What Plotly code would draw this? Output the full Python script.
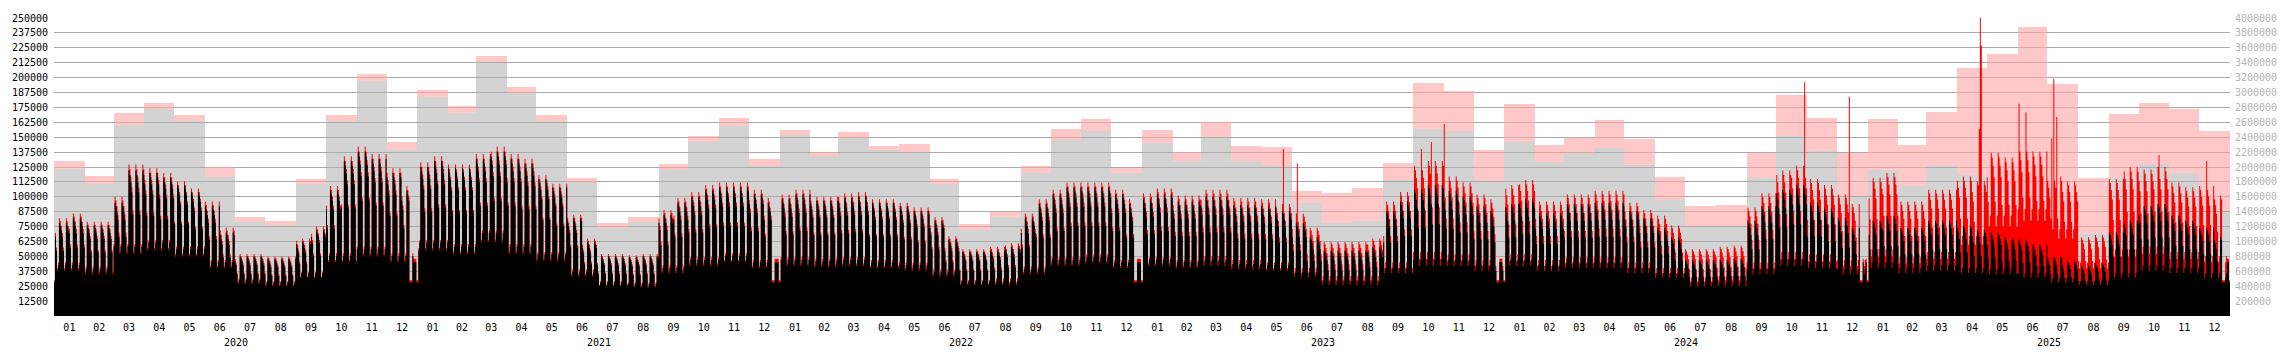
import pandas as pd
import plotly.graph_objects as go

# ---------------- data ----------------
MONTH_LABELS = ["01", "02", "03", "04", "05", "06", "07", "08", "09", "10", "11", "12"]
YEARS = [2020, 2021, 2022, 2023, 2024, 2025]

# monthly totals (right axis) - pink bars
MONTH_TOTAL = [
    2075000, 1875000, 2730000, 2862000, 2702000, 2000000, 1329000, 1275000, 1835000, 2702000, 3250000, 2330000,
    3035000, 2822000, 3490000, 3075000, 2702000, 1850000, 1253000, 1329000, 2035000, 2422000, 2656000, 2112000,
    2496000, 2208000, 2464000, 2288000, 2304000, 1840000, 1232000, 1392000, 2016000, 2512000, 2640000, 1984000,
    2496000, 2208000, 2608000, 2288000, 2272000, 1680000, 1648000, 1712000, 2050000, 3130000, 3022000, 2222000,
    2850000, 2302000, 2395000, 2635000, 2370000, 1862000, 1475000, 1490000, 2182000, 2970000, 2662000, 2182000,
    2650000, 2302000, 2742000, 3330000, 3515000, 3875000, 3115000, 1850000, 2715000, 2862000, 2782000, 2490000,
]
# monthly part (right axis) - grey bars
MONTH_PART = [
    1973000, 1770000, 2570000, 2773000, 2613000, 1867000, 1262000, 1218000, 1770000, 2622000, 3155000, 2222000,
    2942000, 2730000, 3410000, 2987000, 2622000, 1795000, 1182000, 1262000, 1955000, 2330000, 2544000, 2016000,
    2432000, 2144000, 2384000, 2224000, 2208000, 1776000, 1152000, 1328000, 1920000, 2368000, 2480000, 1920000,
    2320000, 2080000, 2400000, 2080000, 2016000, 1520000, 1248000, 1280000, 1830000, 2515000, 2490000, 1810000,
    2330000, 2062000, 2182000, 2250000, 2022000, 1555000, 1210000, 1210000, 1850000, 2410000, 2210000, 1610000,
    1955000, 1742000, 2010000, 1888000, 1760000, 1600000, 1280000, 1107000, 1850000, 2035000, 1915000, 1410000,
]

# daily black weekday peak (thousands), first half / second half of each month
BLACK_PEAK_H1 = [
    78, 76, 95, 120, 110, 92, 50, 48, 62, 105, 138, 120,
    125, 124, 132, 132, 115, 82, 50, 49, 85, 100, 108, 102,
    98, 97, 99, 95, 92, 80, 54, 55, 82, 102, 108, 102,
    98, 96, 100, 93, 92, 78, 55, 55, 88, 106, 105, 92,
    94, 86, 94, 95, 88, 74, 47, 47, 80, 106, 95, 82,
    80, 74, 80, 76, 70, 64, 50, 42, 70, 92, 84, 74,
]
BLACK_PEAK_H2 = [
    82, 76, 122, 116, 104, 70, 50, 48, 72, 130, 132, 105,
    130, 124, 138, 128, 108, 62, 50, 50, 95, 106, 108, 95,
    102, 97, 100, 95, 88, 64, 54, 58, 94, 108, 108, 94,
    102, 96, 100, 93, 88, 66, 55, 58, 96, 110, 100, 88,
    98, 86, 94, 95, 82, 66, 47, 48, 92, 110, 90, 74,
    84, 74, 80, 72, 66, 60, 46, 44, 80, 94, 80, 66,
]
# daily black weekend level (thousands)
BLACK_WEEKEND = [
    38, 35, 52, 55, 50, 40, 27, 25, 32, 45, 50, 45,
    55, 52, 62, 52, 46, 33, 25, 24, 36, 42, 45, 40,
    42, 41, 42, 40, 38, 33, 26, 26, 35, 42, 44, 40,
    42, 40, 42, 39, 38, 33, 26, 26, 36, 42, 42, 38,
    42, 38, 40, 40, 36, 32, 25, 25, 35, 42, 40, 35,
    40, 36, 38, 36, 35, 32, 28, 26, 32, 38, 36, 32,
]
# extra of the red total above black (thousands), weekdays / weekends
RED_EXTRA = [
    4, 3, 5, 4, 3, 4, 2, 2, 3, 4, 4, 4,
    4, 3, 4, 4, 3, 3, 2, 2, 4, 4, 4, 4,
    4, 3, 4, 3, 3, 3, 2, 3, 4, 4, 4, 4,
    5, 5, 6, 6, 6, 8, 7, 7, 8, 20, 12, 10,
    16, 10, 8, 10, 7, 10, 9, 11, 11, 16, 20, 20,
    36, 22, 26, 41, 67, 78, 67, 24, 45, 31, 28, 35,
]
RED_EXTRA_WEEKEND = [
    2, 2, 2, 2, 2, 2, 1, 1, 1, 2, 2, 2,
    2, 2, 2, 2, 2, 2, 1, 1, 2, 2, 2, 2,
    2, 2, 2, 2, 2, 2, 1, 2, 2, 2, 2, 2,
    2, 2, 3, 3, 2, 3, 4, 4, 4, 6, 4, 4,
    4, 4, 4, 4, 4, 4, 4, 5, 5, 6, 6, 7,
    10, 8, 10, 24, 40, 48, 37, 14, 18, 14, 12, 13,
]
# within-week shape (Mon..Fri relative to weekday peak; Sat, Sun)
WEEKDAY_SHAPE = [1.0, 0.97, 0.92, 0.85, 0.70]
WEEKEND_SHAPE = [1.0, 1.12]

# christmas / new year holiday levels (thousands)
HOLIDAY_DATES = ["12-24", "12-25", "12-26", "12-31", "01-01"]
BETWEEN_DATES = ["12-27", "12-28", "12-29", "12-30"]
HOLIDAY_BLACK = 28
HOLIDAY_RED = 30
BETWEEN_BLACK = 45
BETWEEN_RED = 48

# individual red spikes (date, thousands)
RED_SPIKES = {
    "2023-05-23": 140, "2023-06-06": 128, "2023-10-09": 140, "2023-10-19": 146,
    "2023-11-01": 161, "2024-10-29": 196, "2024-12-13": 184,
    "2025-04-23": 157, "2025-04-24": 250, "2025-04-25": 227,
    "2025-06-02": 178, "2025-06-09": 171, "2025-07-05": 149, "2025-07-07": 199,
    "2025-07-10": 167, "2025-10-21": 135, "2025-12-08": 130,
}

# ---------------- build daily series ----------------
days = pd.date_range("2020-01-01", "2025-12-31", freq="D")
black, red = [], []
for d in days:
    m = (d.year - 2020) * 12 + d.month - 1
    dow = d.weekday()
    md = d.strftime("%m-%d")
    peak = BLACK_PEAK_H1[m] if d.day <= 15 else BLACK_PEAK_H2[m]
    if md in HOLIDAY_DATES:
        b, r = HOLIDAY_BLACK, HOLIDAY_RED
    elif md in BETWEEN_DATES and dow < 5:
        b, r = BETWEEN_BLACK, BETWEEN_RED
    elif dow < 5:
        b = peak * WEEKDAY_SHAPE[dow]
        r = (peak + RED_EXTRA[m]) * WEEKDAY_SHAPE[dow]
    else:
        b = BLACK_WEEKEND[m] * WEEKEND_SHAPE[dow - 5]
        r = (BLACK_WEEKEND[m] + RED_EXTRA_WEEKEND[m]) * WEEKEND_SHAPE[dow - 5]
    key = d.strftime("%Y-%m-%d")
    if key in RED_SPIKES:
        r = RED_SPIKES[key]
    r = max(r, b)
    black.append(b * 1000)
    red.append(r * 1000)

xd = list(days) + [pd.Timestamp("2026-01-01")]
black.append(black[-1])
red.append(red[-1])

months = pd.date_range("2020-01-01", "2025-12-01", freq="MS")
month_days = [((m + pd.offsets.MonthBegin(1)) - m).days for m in months]
month_ms = [n * 86400000 for n in month_days]
pink_len = [t - p for t, p in zip(MONTH_TOTAL, MONTH_PART)]

FONT = "DejaVu Sans Mono"
fig = go.Figure()
fig.add_trace(go.Bar(x=months, y=MONTH_PART, width=month_ms, offset=0,
                     marker=dict(color="rgba(170,170,170,0.52)", line=dict(width=0)),
                     yaxis="y", hoverinfo="skip"))
fig.add_trace(go.Bar(x=months, y=pink_len, base=MONTH_PART, width=month_ms, offset=0,
                     marker=dict(color="rgba(255,163,163,0.6)", line=dict(width=0)),
                     yaxis="y", hoverinfo="skip"))
fig.add_trace(go.Scatter(x=xd, y=red, mode="lines", line=dict(width=0, shape="hv"),
                         fill="tozeroy", fillcolor="#ff0000", yaxis="y2", hoverinfo="skip"))
fig.add_trace(go.Scatter(x=xd, y=black, mode="lines", line=dict(width=0, shape="hv"),
                         fill="tozeroy", fillcolor="#000000", yaxis="y2", hoverinfo="skip"))

tick_mid = [m + pd.Timedelta(days=n / 2) for m, n in zip(months, month_days)]
tick_txt = [MONTH_LABELS[m.month - 1] for m in months]

annotations = []
for y in YEARS:
    start = pd.Timestamp(f"{y}-01-01")
    mid = start + (pd.Timestamp(f"{y + 1}-01-01") - start) / 2
    annotations.append(dict(x=mid, y=0, xref="x", yref="paper", text=str(y), showarrow=False,
                            yanchor="middle", yshift=-26, font=dict(family=FONT, size=10, color="#000")))

left_ticks = [12500 * i for i in range(1, 21)]
right_ticks = [200000 * i for i in range(1, 21)]

fig.update_layout(
    width=2289, height=355,
    margin=dict(l=46, r=51, t=15, b=39, pad=0),
    paper_bgcolor="white", plot_bgcolor="white",
    showlegend=False, barmode="overlay", bargap=0,
    annotations=annotations,
    xaxis=dict(type="date", range=["2020-01-01", "2026-01-01"], tickvals=tick_mid, ticktext=tick_txt,
               showgrid=False, zeroline=False, showline=False, ticks="", ticklabelstandoff=4,
               tickfont=dict(family=FONT, size=10, color="#000")),
    yaxis=dict(side="right", range=[0, 4000000], tickvals=right_ticks, ticktext=[str(v) for v in right_ticks],
               showgrid=True, gridcolor="#aaaaaa", gridwidth=1, zeroline=False, showline=False,
               ticks="", ticklabelstandoff=4, tickfont=dict(family=FONT, size=10, color="#b4b4b4")),
    yaxis2=dict(side="left", overlaying="y", range=[0, 250000], tickvals=left_ticks,
                ticktext=[str(v) for v in left_ticks], showgrid=False, zeroline=False, showline=False,
                ticks="", ticklabelstandoff=5, tickfont=dict(family=FONT, size=10, color="#000")),
)

fig.write_html("out.html")
